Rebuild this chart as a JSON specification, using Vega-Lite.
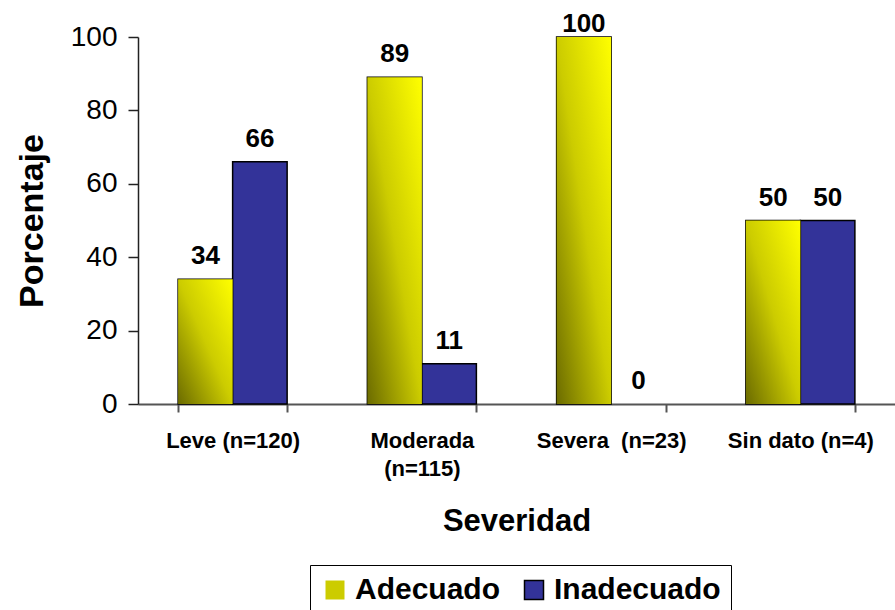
{
  "$schema": "https://vega.github.io/schema/vega-lite/v6.json",
  "width": 757,
  "height": 367,
  "autosize": {"type": "none"},
  "padding": {"left": 138, "top": 37, "right": 0, "bottom": 206},
  "background": "white",
  "config": {
    "view": {"stroke": null},
    "font": "Liberation Sans",
    "axis": {"grid": false}
  },
  "data": {
    "values": [
      {"sev": "Leve (n=120)", "serie": "Adecuado", "pct": 34},
      {"sev": "Leve (n=120)", "serie": "Inadecuado", "pct": 66},
      {"sev": "Moderada|(n=115)", "serie": "Adecuado", "pct": 89},
      {"sev": "Moderada|(n=115)", "serie": "Inadecuado", "pct": 11},
      {"sev": "Severa\u00a0 (n=23)", "serie": "Adecuado", "pct": 100},
      {"sev": "Severa\u00a0 (n=23)", "serie": "Inadecuado", "pct": 0},
      {"sev": "Sin dato (n=4)", "serie": "Adecuado", "pct": 50},
      {"sev": "Sin dato (n=4)", "serie": "Inadecuado", "pct": 50}
    ]
  },
  "encoding": {
    "x": {
      "field": "sev",
      "type": "nominal",
      "sort": null,
      "scale": {"paddingInner": 0.424, "paddingOuter": 0.212},
      "axis": {
        "title": "Severidad",
        "titleFont": "Liberation Sans",
        "titleFontSize": 31,
        "titleFontWeight": "bold",
        "titleColor": "black",
        "titlePadding": 27,
        "labelAngle": 0,
        "labelExpr": "split(datum.label, '|')",
        "labelFont": "Liberation Sans",
        "labelFontSize": 22,
        "labelFontWeight": "bold",
        "labelColor": "black",
        "labelLineHeight": 28,
        "labelBaseline": "top",
        "labelPadding": 18,
        "labelLimit": 0,
        "tickBand": "extent",
        "tickSize": 8,
        "tickColor": "#555555",
        "tickWidth": 2,
        "domainColor": "#555555",
        "domainWidth": 2
      }
    },
    "xOffset": {"field": "serie", "type": "nominal", "scale": {"paddingInner": 0, "paddingOuter": 0}},
    "y": {
      "field": "pct",
      "type": "quantitative",
      "scale": {"domain": [0, 100]},
      "axis": {
        "title": "Porcentaje",
        "titleFont": "Liberation Sans",
        "titleFontSize": 34,
        "titleFontWeight": "bold",
        "titleColor": "black",
        "titlePadding": 21,
        "values": [0, 20, 40, 60, 80, 100],
        "labelFont": "Liberation Sans",
        "labelFontSize": 28,
        "labelColor": "black",
        "labelPadding": 11,
        "tickSize": 10,
        "tickColor": "#222222",
        "tickWidth": 1.5,
        "domainColor": "#222222",
        "domainWidth": 1.5
      }
    }
  },
  "layer": [
    {
      "transform": [{"filter": "datum.pct > 0"}],
      "mark": {"type": "bar", "stroke": "black", "strokeWidth": 1.5},
      "encoding": {
        "color": {
          "field": "serie",
          "type": "nominal",
          "scale": {"domain": ["Adecuado", "Inadecuado"], "range": ["#cccc00", "#333399"]},
          "legend": {
            "title": null,
            "orient": "none",
            "legendX": 172,
            "legendY": 528,
            "direction": "horizontal",
            "symbolType": "square",
            "symbolSize": 361,
            "symbolStrokeColor": "black",
            "labelFont": "Liberation Sans",
            "labelFontSize": 30,
            "labelFontWeight": "bold",
            "labelColor": "black",
            "labelLimit": 0,
            "labelOffset": 5,
            "columnPadding": 18,
            "padding": 10,
            "strokeColor": "black",
            "fillColor": "white",
            "encode": {
              "symbols": {
                "enter": {
                  "fill": [
                    {"test": "datum.value === 'Inadecuado'", "value": "#333399"},
                    {"value": {"gradient": "linear", "x1": 0, "y1": 1, "x2": 1, "y2": 0, "stops": [{"offset": 0, "color": "#6b6b00"}, {"offset": 0.5, "color": "#cccc00"}, {"offset": 1, "color": "#ffff00"}]}}
                  ],
                  "stroke": [
                    {"test": "datum.value === 'Inadecuado'", "value": "black"},
                    {"value": "transparent"}
                  ]
                },
                "update": {
                  "fill": [
                    {"test": "datum.value === 'Inadecuado'", "value": "#333399"},
                    {"value": {"gradient": "linear", "x1": 0, "y1": 1, "x2": 1, "y2": 0, "stops": [{"offset": 0, "color": "#6b6b00"}, {"offset": 0.5, "color": "#cccc00"}, {"offset": 1, "color": "#ffff00"}]}}
                  ],
                  "stroke": [
                    {"test": "datum.value === 'Inadecuado'", "value": "black"},
                    {"value": "transparent"}
                  ]
                }
              }
            }
          }
        }
      }
    },
    {
      "transform": [{"filter": "datum.serie === 'Adecuado'"}],
      "mark": {
        "type": "bar",
        "color": {
          "gradient": "linear",
          "x1": 0, "y1": 1, "x2": 1, "y2": 0,
          "stops": [
            {"offset": 0, "color": "#6b6b00"},
            {"offset": 0.5, "color": "#cccc00"},
            {"offset": 1, "color": "#ffff00"}
          ]
        }
      }
    },
    {
      "transform": [{"filter": "datum.pct < 95"}],
      "mark": {
        "type": "text",
        "font": "Liberation Sans",
        "fontSize": 26,
        "fontWeight": "bold",
        "color": "black",
        "baseline": "alphabetic",
        "dy": -15
      },
      "encoding": {
        "text": {"field": "pct", "type": "quantitative"}
      }
    },
    {
      "transform": [{"filter": "datum.pct >= 95"}],
      "mark": {
        "type": "text",
        "font": "Liberation Sans",
        "fontSize": 26,
        "fontWeight": "bold",
        "color": "black",
        "baseline": "alphabetic",
        "dy": -5
      },
      "encoding": {
        "text": {"field": "pct", "type": "quantitative"}
      }
    }
  ]
}
